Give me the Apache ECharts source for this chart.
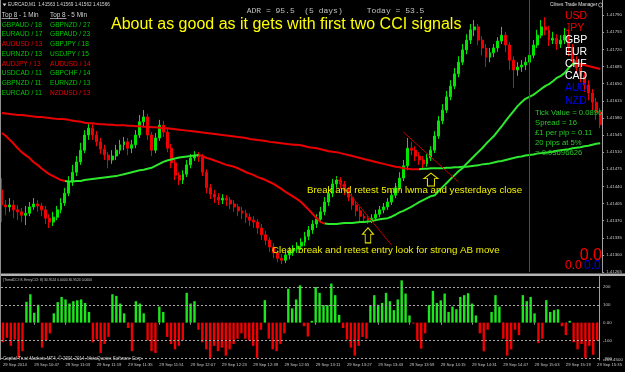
<!DOCTYPE html>
<html><head><meta charset="utf-8">
<script src="https://cdn.jsdelivr.net/npm/echarts@6/dist/echarts.min.js"></script>
<style>html,body{margin:0;padding:0;background:#000;}#c{width:625px;height:372px;}</style>
</head><body><div id="c"></div>
<script>
// ---------- DATA (EURCAD M1, 2-minute sampled bars) ----------
const openP = [1.41433,1.41402,1.41398,1.41402,1.41392,1.41388,1.41381,1.41385,1.41398,1.41404,
1.41400,1.41392,1.41375,1.41367,1.41377,1.41392,1.41406,1.41426,1.41449,1.41469,
1.41490,1.41514,1.41545,1.41559,1.41545,1.41531,1.41516,1.41504,1.41494,1.41502,
1.41514,1.41525,1.41531,1.41518,1.41525,1.41545,1.41572,1.41582,1.41545,1.41514,
1.41539,1.41565,1.41551,1.41518,1.41488,1.41463,1.41453,1.41465,1.41484,1.41498,
1.41504,1.41500,1.41469,1.41437,1.41424,1.41418,1.41412,1.41416,1.41412,1.41404,
1.41398,1.41390,1.41385,1.41377,1.41371,1.41367,1.41355,1.41341,1.41330,1.41316,
1.41304,1.41293,1.41289,1.41300,1.41308,1.41312,1.41318,1.41326,1.41338,1.41351,
1.41363,1.41373,1.41388,1.41408,1.41426,1.41445,1.41453,1.41445,1.41431,1.41418,
1.41402,1.41390,1.41379,1.41375,1.41371,1.41375,1.41383,1.41392,1.41398,1.41408,
1.41422,1.41437,1.41457,1.41482,1.41518,1.41514,1.41502,1.41494,1.41486,1.41498,
1.41514,1.41543,1.41574,1.41596,1.41623,1.41645,1.41670,1.41694,1.41719,1.41739,
1.41760,1.41766,1.41739,1.41723,1.41704,1.41713,1.41723,1.41737,1.41749,1.41729,
1.41698,1.41678,1.41684,1.41688,1.41694,1.41708,1.41729,1.41749,1.41766,1.41760,
1.41739,1.41743,1.41731,1.41739,1.41749,1.41723,1.41698,1.41682,1.41666,1.41647,
1.41631,1.41612,1.41592];
const closeP = [1.41402,1.41398,1.41402,1.41392,1.41388,1.41381,1.41385,1.41398,1.41404,1.41400,
1.41392,1.41375,1.41367,1.41377,1.41392,1.41406,1.41426,1.41449,1.41469,1.41490,
1.41514,1.41545,1.41559,1.41545,1.41531,1.41516,1.41504,1.41494,1.41502,1.41514,
1.41525,1.41531,1.41518,1.41525,1.41545,1.41572,1.41582,1.41545,1.41514,1.41539,
1.41565,1.41551,1.41518,1.41488,1.41463,1.41453,1.41465,1.41484,1.41498,1.41504,
1.41500,1.41469,1.41437,1.41424,1.41418,1.41412,1.41416,1.41412,1.41404,1.41398,
1.41390,1.41385,1.41377,1.41371,1.41367,1.41355,1.41341,1.41330,1.41316,1.41304,
1.41293,1.41289,1.41300,1.41308,1.41312,1.41318,1.41326,1.41338,1.41351,1.41363,
1.41373,1.41388,1.41408,1.41426,1.41445,1.41453,1.41445,1.41431,1.41418,1.41402,
1.41390,1.41379,1.41375,1.41371,1.41375,1.41383,1.41392,1.41398,1.41408,1.41422,
1.41437,1.41457,1.41482,1.41518,1.41514,1.41502,1.41494,1.41486,1.41498,1.41514,
1.41543,1.41574,1.41596,1.41623,1.41645,1.41670,1.41694,1.41719,1.41739,1.41760,
1.41766,1.41739,1.41723,1.41704,1.41713,1.41723,1.41737,1.41749,1.41729,1.41698,
1.41678,1.41684,1.41688,1.41694,1.41708,1.41729,1.41749,1.41766,1.41760,1.41739,
1.41743,1.41731,1.41739,1.41749,1.41723,1.41698,1.41682,1.41666,1.41647,1.41631,
1.41612,1.41592,1.41566];
const highP = [1.41457,1.41412,1.41416,1.41412,1.41402,1.41396,1.41400,1.41408,1.41416,1.41412,
1.41406,1.41400,1.41383,1.41388,1.41400,1.41416,1.41437,1.41461,1.41484,1.41502,
1.41529,1.41555,1.41569,1.41567,1.41553,1.41539,1.41525,1.41510,1.41514,1.41525,
1.41535,1.41541,1.41539,1.41535,1.41555,1.41586,1.41596,1.41588,1.41551,1.41549,
1.41576,1.41574,1.41559,1.41527,1.41494,1.41469,1.41473,1.41494,1.41506,1.41512,
1.41510,1.41506,1.41475,1.41445,1.41433,1.41426,1.41424,1.41422,1.41418,1.41412,
1.41404,1.41398,1.41392,1.41385,1.41379,1.41373,1.41363,1.41349,1.41336,1.41324,
1.41310,1.41302,1.41308,1.41316,1.41320,1.41326,1.41334,1.41347,1.41359,1.41371,
1.41383,1.41398,1.41418,1.41437,1.41455,1.41461,1.41459,1.41451,1.41439,1.41426,
1.41410,1.41398,1.41385,1.41381,1.41383,1.41392,1.41400,1.41406,1.41416,1.41433,
1.41447,1.41469,1.41494,1.41539,1.41531,1.41522,1.41510,1.41502,1.41506,1.41522,
1.41553,1.41584,1.41608,1.41635,1.41657,1.41682,1.41706,1.41731,1.41751,1.41772,
1.41780,1.41772,1.41747,1.41731,1.41723,1.41731,1.41745,1.41766,1.41756,1.41735,
1.41706,1.41694,1.41698,1.41704,1.41719,1.41739,1.41760,1.41780,1.41786,1.41768,
1.41756,1.41751,1.41749,1.41764,1.41760,1.41731,1.41706,1.41690,1.41674,1.41657,
1.41639,1.41621,1.41600];
const lowP = [1.41367,1.41381,1.41388,1.41375,1.41371,1.41367,1.41361,1.41379,1.41392,1.41388,
1.41379,1.41363,1.41355,1.41359,1.41371,1.41385,1.41400,1.41420,1.41441,1.41461,
1.41484,1.41508,1.41535,1.41535,1.41522,1.41506,1.41494,1.41477,1.41486,1.41494,
1.41506,1.41514,1.41504,1.41508,1.41518,1.41539,1.41563,1.41535,1.41502,1.41508,
1.41533,1.41541,1.41510,1.41477,1.41453,1.41443,1.41445,1.41459,1.41477,1.41492,
1.41490,1.41461,1.41426,1.41414,1.41406,1.41402,1.41404,1.41400,1.41394,1.41388,
1.41379,1.41373,1.41365,1.41359,1.41355,1.41343,1.41330,1.41320,1.41306,1.41293,
1.41285,1.41281,1.41283,1.41291,1.41298,1.41304,1.41310,1.41318,1.41330,1.41343,
1.41355,1.41365,1.41381,1.41400,1.41418,1.41437,1.41435,1.41422,1.41410,1.41392,
1.41379,1.41369,1.41365,1.41363,1.41365,1.41369,1.41377,1.41385,1.41392,1.41402,
1.41416,1.41431,1.41451,1.41473,1.41504,1.41492,1.41484,1.41477,1.41480,1.41492,
1.41508,1.41537,1.41567,1.41590,1.41616,1.41639,1.41663,1.41688,1.41710,1.41731,
1.41747,1.41729,1.41708,1.41684,1.41694,1.41704,1.41715,1.41731,1.41715,1.41678,
1.41641,1.41666,1.41674,1.41678,1.41686,1.41702,1.41723,1.41743,1.41749,1.41727,
1.41731,1.41719,1.41723,1.41731,1.41706,1.41686,1.41670,1.41653,1.41633,1.41616,
1.41596,1.41576,1.41559];
const fastMA = [1.41549,1.41543,1.41535,1.41527,1.41518,1.41510,1.41504,1.41498,1.41490,1.41484,
1.41477,1.41471,1.41465,1.41461,1.41457,1.41453,1.41451,1.41450,1.41450,1.41451,
1.41451,1.41453,1.41454,1.41455,1.41456,1.41457,1.41458,1.41459,1.41460,1.41461,
1.41463,1.41465,1.41467,1.41469,1.41471,1.41473,1.41474,1.41476,1.41478,1.41482,
1.41486,1.41490,1.41493,1.41495,1.41497,1.41499,1.41500,1.41501,1.41502,1.41503,
1.41504,1.41502,1.41498,1.41496,1.41493,1.41490,1.41487,1.41484,1.41482,1.41480,
1.41477,1.41473,1.41469,1.41466,1.41463,1.41459,1.41456,1.41453,1.41449,1.41445,
1.41440,1.41435,1.41429,1.41424,1.41419,1.41414,1.41408,1.41400,1.41392,1.41383,
1.41375,1.41367,1.41364,1.41363,1.41363,1.41363,1.41364,1.41365,1.41365,1.41365,
1.41366,1.41367,1.41367,1.41368,1.41369,1.41371,1.41373,1.41374,1.41375,1.41378,
1.41382,1.41387,1.41390,1.41394,1.41398,1.41403,1.41408,1.41412,1.41416,1.41420,
1.41422,1.41431,1.41439,1.41447,1.41455,1.41463,1.41471,1.41477,1.41486,1.41494,
1.41502,1.41510,1.41518,1.41527,1.41535,1.41543,1.41553,1.41563,1.41574,1.41584,
1.41594,1.41604,1.41612,1.41619,1.41623,1.41627,1.41633,1.41639,1.41645,1.41649,
1.41655,1.41662,1.41666,1.41672,1.41682,1.41690,1.41692,1.41690,1.41688,1.41686,
1.41684,1.41682,1.41680];
const slowMA = [1.41590,1.41589,1.41588,1.41587,1.41586,1.41586,1.41585,1.41584,1.41583,1.41582,
1.41582,1.41581,1.41580,1.41579,1.41578,1.41578,1.41577,1.41576,1.41574,1.41573,
1.41572,1.41570,1.41569,1.41569,1.41568,1.41567,1.41567,1.41566,1.41566,1.41565,
1.41565,1.41565,1.41564,1.41564,1.41563,1.41563,1.41562,1.41562,1.41561,1.41561,
1.41560,1.41559,1.41559,1.41558,1.41557,1.41556,1.41555,1.41554,1.41553,1.41552,
1.41551,1.41550,1.41549,1.41548,1.41547,1.41546,1.41545,1.41544,1.41543,1.41542,
1.41541,1.41540,1.41539,1.41537,1.41536,1.41535,1.41534,1.41533,1.41531,1.41530,
1.41529,1.41528,1.41527,1.41526,1.41525,1.41525,1.41524,1.41522,1.41520,1.41519,
1.41518,1.41516,1.41514,1.41512,1.41511,1.41510,1.41508,1.41506,1.41504,1.41502,
1.41500,1.41498,1.41496,1.41494,1.41492,1.41490,1.41488,1.41486,1.41484,1.41482,
1.41480,1.41479,1.41477,1.41476,1.41475,1.41475,1.41475,1.41476,1.41476,1.41477,
1.41477,1.41477,1.41477,1.41478,1.41478,1.41479,1.41479,1.41480,1.41480,1.41481,
1.41482,1.41483,1.41485,1.41486,1.41487,1.41489,1.41491,1.41492,1.41494,1.41496,
1.41498,1.41500,1.41501,1.41503,1.41504,1.41505,1.41507,1.41508,1.41509,1.41510,
1.41511,1.41513,1.41514,1.41515,1.41516,1.41518,1.41519,1.41520,1.41522,1.41523,
1.41525,1.41527,1.41528];
const cci = [-110,-85,-130,-95,-198,-160,117,159,55,100,
-140,-100,-60,52,115,144,130,107,120,125,
130,110,60,-110,-95,-170,-120,-80,159,150,
107,52,-30,-160,120,107,52,-100,-160,-170,
90,60,-80,-120,-150,-130,-100,167,107,120,
-40,-110,-150,-198,-130,-160,-140,-185,-150,-120,
-90,-60,-90,-100,-130,-198,-40,126,-90,-150,
-160,-120,-60,190,80,130,209,-20,-78,10,
200,167,98,98,219,154,43,-30,-95,-140,
-185,-130,-80,-90,98,154,100,110,167,120,
70,130,237,163,40,-5,-100,-146,-60,98,
178,110,125,163,60,90,75,144,154,165,
107,40,-60,-161,-40,60,154,90,-90,-185,
-150,-40,-70,154,120,144,52,-115,-90,126,
60,70,75,-20,-70,10,-110,-150,-120,-198,
-130,-180,-100];
const timeLabels = ["29 Sep 2014","29 Sep 10:47","29 Sep 11:03","29 Sep 11:19","29 Sep 11:35","29 Sep 11:51","29 Sep 12:07","29 Sep 12:23","29 Sep 12:39","29 Sep 12:55","29 Sep 13:11","29 Sep 13:27","29 Sep 13:43","29 Sep 13:59","29 Sep 14:15","29 Sep 14:31","29 Sep 14:47","29 Sep 15:03","29 Sep 15:19","29 Sep 15:35"];
const cciTickValues = [258.5769, 200, 100, 0, -100, -200, -209.45];
const cciTickTexts = ['258.5769','200','100','0.00','-100','-200','-209.4500'];
const levelLines = [1.41755, 1.41500, 1.41479]; // gray, gray, green (yesterday close)
const currentPrice = 1.41566;
const fastTurns = [16, 50, 82, 146];   // bar indices where the fast MA changes colour (red, green, red, green, red)
const slowTurn = 106;                  // slow MA: red before, green after
const trendLines = [[[85,1.41457],[99,1.41320]], [[102,1.41551],[116,1.41449]]];
const arrows = [[93,1.41340],[109,1.41454]];
const top1Min = [['GBPAUD',18,1],['EURAUD',17,1],['AUDUSD',13,0],['EURNZD',13,1],['AUDJPY',13,0],['USDCAD',11,1],['GBPNZD',11,1],['EURCAD',11,1]];
const top5Min = [['GBPNZD',27,1],['GBPAUD',23,1],['GBPJPY',18,1],['USDJPY',15,1],['AUDUSD',14,0],['GBPCHF',14,1],['EURNZD',13,1],['NZDUSD',13,0]];
const currencies = ['USD','JPY','GBP','EUR','CHF','CAD','AUD','NZD'];
const currencyColors = ['#ff0000','#ee0000','#ffffff','#ffffff','#ffffff','#ffffff','#0000ff','#0000ff'];
const infoLines = ['Tick Value = 0.0896','Spread = 16','\u00a31 per pip = 0.11','20 pips at 5%','= 0.03696626'];

// ---------- CHART ----------
const N = openP.length;
const cats = [];
for (let i = 0; i < N; i++) {
  const m = 10*60 + 31 + 2*i;
  cats.push('29 Sep ' + String(Math.floor(m/60)).padStart(2,'0') + ':' + String(m%60).padStart(2,'0'));
}
const ohlc = openP.map((o,i) => [o, closeP[i], lowP[i], highP[i]]);

function segments(values, turns) {
  const bounds = [0].concat(turns, [values.length - 1]);
  const out = [];
  for (let s = 0; s < bounds.length - 1; s++) {
    out.push(values.map((v,i) => (i >= bounds[s] && i <= bounds[s+1]) ? v : '-'));
  }
  return out;
}
const RED = '#f00000', GREEN = '#2ee82e';
const fastSegs = segments(fastMA, fastTurns);
const slowSegs = segments(slowMA, [slowTurn]);

const FONT = 'Liberation Sans';
const els = [];
function T(x, y, text, size, color, extra) {
  els.push({type:'text', z:100, silent:true, style:Object.assign({x:x, y:y, text:text, fontSize:size, fontFamily:FONT, fill:color, align:'left', verticalAlign:'middle'}, extra||{})});
}
els.push({type:'rect', z:50, silent:true, shape:{x:0, y:273.5, width:625, height:2.5}, style:{fill:'#b4b4b4'}});
els.push({type:'line', z:50, silent:true, shape:{x1:0.5, y1:0, x2:0.5, y2:360}, style:{stroke:'#909090', lineWidth:1}});
els.push({type:'polygon', z:100, silent:true, shape:{points:[[2.5,3.5],[6.5,3.5],[4.5,6.2]]}, style:{fill:'#d0d0d0'}});
T(8, 5, 'EURCAD,M1  1.41563 1.41569 1.41562 1.41566', 4.7, '#d8d8d8');
T(246.7, 11, 'ADR = 95.5  (5 days)     Today = 53.5', 8, '#c0c0c0', {fontFamily:'Liberation Mono'});
T(111, 25, 'About as good as it gets with first two CCI signals', 16, '#ffff00');
T(1.7, 15, 'Top 8 - 1 Min', 6.4, '#d0d0d0');
T(50, 15, 'Top 8 - 5 Min', 6.4, '#d0d0d0');
els.push({type:'line', z:100, silent:true, shape:{x1:1.7, y1:18.5, x2:18.1, y2:18.5}, style:{stroke:'#d0d0d0', lineWidth:0.7}});
els.push({type:'line', z:100, silent:true, shape:{x1:50, y1:18.5, x2:66.4, y2:18.5}, style:{stroke:'#d0d0d0', lineWidth:0.7}});
top1Min.forEach((r,k) => T(1.7, 25 + 9.67*k, r[0] + ' / ' + r[1], 6.6, r[2] ? '#00c800' : '#f00000'));
top5Min.forEach((r,k) => T(50, 25 + 9.67*k, r[0] + ' / ' + r[1], 6.6, r[2] ? '#00c800' : '#f00000'));
T(550, 5, 'Clines Trade Manager', 4.8, '#e0e0e0');
els.push({type:'circle', z:100, silent:true, shape:{cx:600.5, cy:5, r:2}, style:{stroke:'#e0e0e0', fill:'none', lineWidth:0.6}});
currencies.forEach((c,k) => T(565, 15.7 + 12.14*k, c, 10.5, currencyColors[k]));
infoLines.forEach((s,k) => T(535, 113.3 + 10*k, s, 7.7, '#28c828'));
T(602, 255.5, '0.0', 16, '#ff0000', {align:'right'});
T(565, 265.5, '0.0', 12, '#ff0000');
T(584, 265.5, '0.0', 12, '#0000ff');
T(307, 190, 'Break and retest 5min lwma and yesterdays close', 9.75, '#f0f000');
T(272, 250.7, 'Clear break and retest entry look for strong AB move', 9.75, '#f0f000');
T(3, 280.5, '(TrendCCI: 8, EntryCCI: 8) 30.9524 0.0000 30.9524 0.0000', 3.4, '#c8c8c8');
T(3, 359, 'Capital Trust Markets MT4, \u00a9 2001-2014, MetaQuotes Software Corp.', 4.5, '#c8c8c8');

const axisLbl = {fontSize:4.4, color:'#c8c8c8', fontFamily:FONT};
const boxLabel = (txt, bg, fg) => ({show:true, position:'end', formatter:txt, fontSize:4.4, fontFamily:FONT, color:fg, backgroundColor:bg, padding:[1,1,0.5,1], distance:2});
const arrowPath = 'path://M6,0 L12,6 L9,6 L9,14 L3,14 L3,6 L0,6 Z';

const mainMarkLines = [
  {yAxis: levelLines[0], lineStyle:{color:'#62676f', width:1, type:'solid'}, label: boxLabel('1.41755', '#aab0b8', '#000')},
  {yAxis: levelLines[1], lineStyle:{color:'#5a606c', width:1, type:'solid'}, label: boxLabel('1.41500', '#aab0b8', '#000')},
  {yAxis: levelLines[2], lineStyle:{color:'#00a000', width:1, type:'solid'}},
  {yAxis: currentPrice, lineStyle:{color:'rgba(0,0,0,0)', width:0.1}, label: boxLabel('1.41566', '#ffffff', '#000')},
  {xAxis: cats[134], lineStyle:{color:'#ff0000', width:1, type:'solid'}}
];
trendLines.forEach(t => mainMarkLines.push([{coord:t[0], lineStyle:{color:'#c00000', width:1, type:'solid'}}, {coord:t[1]}]));

const cciMarkLines = cciTickValues.map((v,k) => {
  const grid = (v === 200 || v === 100 || v === -100 || v === -200);
  return {yAxis:v, lineStyle: grid ? {color:'#a8a8a8', width:1, type:[2,2]} : {color:'rgba(0,0,0,0)', width:0.1},
          label:{show:true, position:'end', formatter:cciTickTexts[k], fontSize:4.4, fontFamily:FONT, color:'#c8c8c8', distance:4}};
});

const lineSeries = [];
fastSegs.forEach((d,s) => lineSeries.push({type:'line', xAxisIndex:0, yAxisIndex:0, data:d, showSymbol:false, symbol:'none', connectNulls:false, lineStyle:{width:2, color: s % 2 === 0 ? RED : GREEN}, z:4}));
slowSegs.forEach((d,s) => lineSeries.push({type:'line', xAxisIndex:0, yAxisIndex:0, data:d, showSymbol:false, symbol:'none', connectNulls:false, lineStyle:{width:2, color: s === 0 ? '#e80000' : GREEN}, z:4}));

const chart = echarts.init(document.getElementById('c'), null, {renderer:'canvas'});
chart.setOption({
  backgroundColor:'#000000',
  animation:false,
  textStyle:{fontFamily:FONT},
  grid:[{left:0, right:22, top:0, height:272}, {left:0, right:22, top:276.5, height:83.5}],
  xAxis:[
    {type:'category', gridIndex:0, data:cats, boundaryGap:true, axisLine:{show:false}, axisTick:{show:false}, axisLabel:{show:false}, splitLine:{show:false}},
    {type:'category', gridIndex:1, data:cats, boundaryGap:true, axisLine:{show:false},
     axisTick:{show:true, interval:7, alignWithLabel:true, length:2, lineStyle:{color:'#a0a0a0'}},
     axisLabel:{show:true, interval:7, align:'left', margin:3, fontSize:4.2, color:'#c8c8c8', fontFamily:FONT, formatter:(v,i) => timeLabels[i/8] || ''},
     splitLine:{show:false}}
  ],
  yAxis:[
    {type:'value', gridIndex:0, position:'right', min:1.41265, max:1.41821, interval:0.00035,
     axisLine:{show:true, lineStyle:{color:'#a0a0a0'}}, axisTick:{show:true, length:2, lineStyle:{color:'#a0a0a0'}},
     axisLabel:Object.assign({margin:4, showMaxLabel:false, formatter:v => v.toFixed(5)}, axisLbl), splitLine:{show:false}},
    {type:'value', gridIndex:1, position:'right', min:-209.45, max:258.5769,
     axisLine:{show:true, lineStyle:{color:'#a0a0a0'}}, axisTick:{show:false}, axisLabel:{show:false}, splitLine:{show:false}}
  ],
  series:[
    {type:'candlestick', name:'EURCAD', xAxisIndex:0, yAxisIndex:0, data:ohlc, barWidth:2.4, z:3,
     itemStyle:{color:'#00e600', color0:'#f00000', borderColor:'#00e600', borderColor0:'#f00000', borderWidth:1},
     markLine:{symbol:['none','none'], silent:true, animation:false, label:{show:false}, data:mainMarkLines},
     markPoint:{silent:true, animation:false, label:{show:false},
       data:[
         {coord:arrows[0], symbol:arrowPath, symbolSize:[11,15], itemStyle:{color:'#000000', borderColor:'#e6e600', borderWidth:1}},
         {coord:arrows[1], symbol:arrowPath, symbolSize:[14,13], itemStyle:{color:'#000000', borderColor:'#e6e600', borderWidth:1}}
       ]}},
    {type:'bar', name:'CCI', xAxisIndex:1, yAxisIndex:1, data:cci, barWidth:2.4,
     itemStyle:{color:p => p.value >= 0 ? '#1ee61e' : '#f00000'},
     markLine:{symbol:['none','none'], silent:true, animation:false, data:cciMarkLines}}
  ].concat(lineSeries),
  graphic:{elements:els}
});
</script>
</body></html>
